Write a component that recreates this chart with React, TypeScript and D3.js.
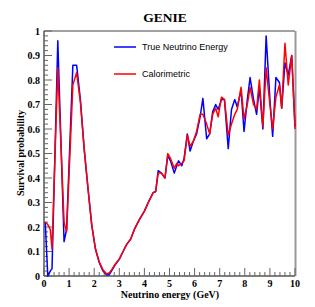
import React from "react";
import * as d3 from "d3";

const energies = [0.05, 0.15, 0.25, 0.32, 0.55, 0.8, 0.9, 1.15, 1.3, 1.45, 1.6, 1.75, 1.9, 2.05, 2.2, 2.35, 2.5, 2.6, 2.7, 2.85, 3.0, 3.15, 3.3, 3.45, 3.6, 3.8, 4.0, 4.2, 4.35, 4.45, 4.55, 4.68, 4.82, 4.93, 5.04, 5.19, 5.29, 5.36, 5.49, 5.58, 5.71, 5.82, 5.95, 6.08, 6.22, 6.33, 6.48, 6.6, 6.72, 6.84, 6.94, 7.07, 7.19, 7.34, 7.47, 7.6, 7.7, 7.85, 7.97, 8.1, 8.21, 8.35, 8.47, 8.58, 8.72, 8.85, 9.0, 9.11, 9.24, 9.38, 9.47, 9.6, 9.73, 9.87, 10.0];

const trueEnergy = [0.22, 0.0, 0.02, 0.03, 0.96, 0.14, 0.19, 0.86, 0.86, 0.72, 0.52, 0.36, 0.21, 0.11, 0.055, 0.02, 0.004, 0.006, 0.022, 0.048, 0.068, 0.1, 0.13, 0.15, 0.19, 0.23, 0.265, 0.31, 0.34, 0.345, 0.43, 0.42, 0.4, 0.49, 0.47, 0.42, 0.45, 0.47, 0.45, 0.48, 0.58, 0.51, 0.55, 0.58, 0.65, 0.725, 0.56, 0.58, 0.67, 0.7, 0.68, 0.72, 0.72, 0.52, 0.68, 0.72, 0.69, 0.76, 0.59, 0.72, 0.81, 0.72, 0.66, 0.77, 0.6, 0.98, 0.72, 0.57, 0.81, 0.79, 0.685, 0.87, 0.82, 0.9, 0.61];

const calorimetric = [0.22, 0.21, 0.19, 0.11, 0.85, 0.22, 0.18, 0.78, 0.83, 0.71, 0.52, 0.36, 0.21, 0.11, 0.058, 0.025, 0.008, 0.012, 0.026, 0.05, 0.07, 0.1, 0.13, 0.15, 0.19, 0.23, 0.265, 0.31, 0.34, 0.345, 0.42, 0.42, 0.4, 0.5, 0.48, 0.44, 0.46, 0.45, 0.46, 0.47, 0.575, 0.53, 0.55, 0.59, 0.66, 0.66, 0.62, 0.58, 0.66, 0.685, 0.65, 0.73, 0.72, 0.575, 0.62, 0.66, 0.68, 0.77, 0.64, 0.7, 0.77, 0.7, 0.68, 0.8, 0.61, 0.85, 0.7, 0.6, 0.73, 0.78, 0.685, 0.95, 0.78, 0.9, 0.6];

const xTicks = [0, 1, 2, 3, 4, 5, 6, 7, 8, 9, 10];
const yTicks = [0, 0.1, 0.2, 0.3, 0.4, 0.5, 0.6, 0.7, 0.8, 0.9, 1];
const seriesNames = ["True Neutrino Energy", "Calorimetric"];
const seriesColors = ["#0000ff", "#ff0000"];

const W = 315, H = 307;
const L = 44, R = 295, T = 31, B = 276;
const serif = "'Liberation Serif', 'Times New Roman', serif";
const sans = "'Liberation Sans', Arial, sans-serif";

export default function App() {
  const x = d3.scaleLinear().domain([0, 10]).range([L, R]);
  const y = d3.scaleLinear().domain([0, 1]).range([B, T]);
  const line = d3.line<number>().x((_, i) => x(energies[i])).y((d) => y(d));

  const xMinor = d3.range(0, 10.001, 0.2);
  const yMinor = d3.range(0, 1.0001, 0.02);

  return (
    <svg width={W} height={H} style={{ position: "absolute", left: 0, top: 0 }}>
      <rect width={W} height={H} fill="white" />
      <text x={165} y={22} textAnchor="middle" fontFamily={serif} fontWeight="bold" fontSize={13.5}>GENIE</text>

      {/* frame */}
      <line x1={L} x2={R} y1={T} y2={T} stroke="#444" strokeWidth={1} />
      <line x1={R + 0.5} x2={R + 0.5} y1={T} y2={B} stroke="#999" strokeWidth={2} />
      <line x1={L} x2={L} y1={T} y2={B} stroke="#000" strokeWidth={1} />
      <line x1={L} x2={R} y1={B} y2={B} stroke="#000" strokeWidth={1} />

      {/* y ticks */}
      {yMinor.map((v, i) => (
        <line key={"ym" + i} x1={L} x2={L + (i % 5 === 0 ? 8 : 4)} y1={y(v)} y2={y(v)} stroke="#666" strokeWidth={1} />
      ))}
      {yTicks.map((v) => (
        <text key={"yt" + v} x={40} y={y(v) + 3.5} textAnchor="end" fontFamily={serif} fontWeight="bold" fontSize={10}>{String(v)}</text>
      ))}
      {/* x ticks */}
      {xMinor.map((v, i) => (
        <line key={"xm" + i} x1={x(v)} x2={x(v)} y1={B} y2={B - (i % 5 === 0 ? 8 : 4)} stroke="#666" strokeWidth={1} />
      ))}
      {xTicks.map((v) => (
        <text key={"xt" + v} x={x(v)} y={287} textAnchor="middle" fontFamily={serif} fontWeight="bold" fontSize={10}>{String(v)}</text>
      ))}

      <text x={170} y={298} textAnchor="middle" fontFamily={serif} fontWeight="bold" fontSize={10}>Neutrino energy (GeV)</text>
      <text transform={`translate(24,153) rotate(-90)`} textAnchor="middle" fontFamily={serif} fontWeight="bold" fontSize={10}>Survival probability</text>

      <path d={line(trueEnergy) || ""} fill="none" stroke={seriesColors[0]} strokeWidth={1.5} strokeLinejoin="round" />
      <path d={line(calorimetric) || ""} fill="none" stroke={seriesColors[1]} strokeWidth={1.5} strokeLinejoin="round" />

      {/* legend */}
      {seriesNames.map((name, i) => (
        <g key={name}>
          <line x1={114} x2={136} y1={47 + i * 27} y2={47 + i * 27} stroke={seriesColors[i]} strokeWidth={1.5} />
          <text x={142} y={50 + i * 27} fontFamily={sans} fontSize={9}>{name}</text>
        </g>
      ))}
    </svg>
  );
}
